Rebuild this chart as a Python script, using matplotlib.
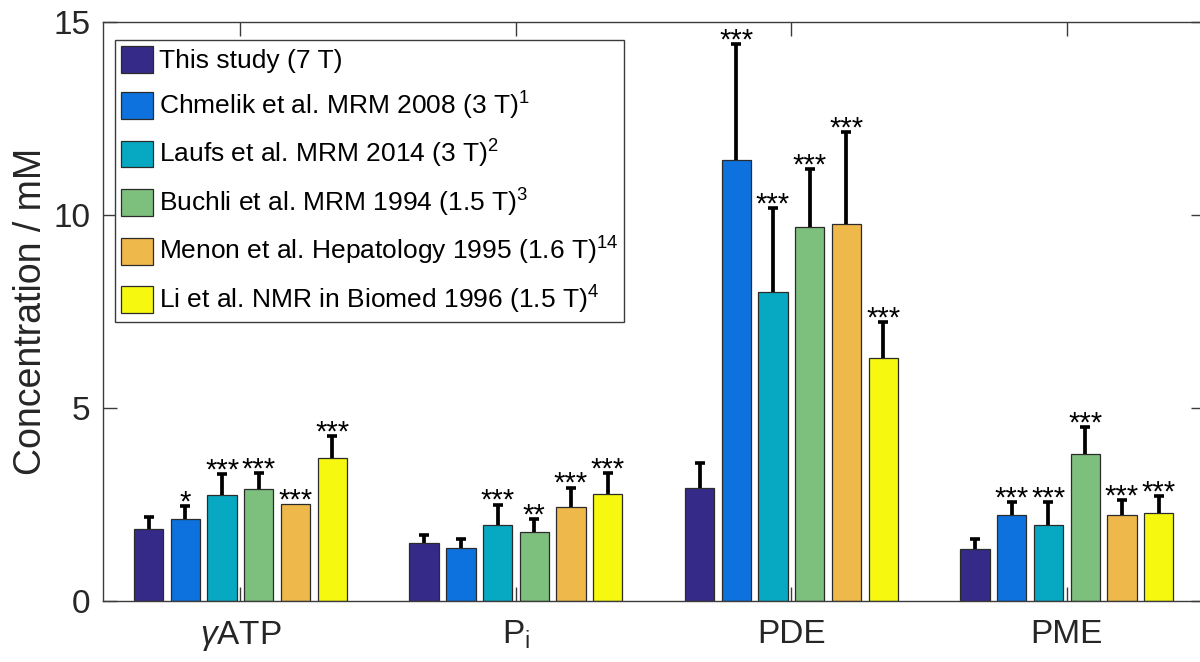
import numpy as np
import matplotlib
matplotlib.use("Agg")
import matplotlib.pyplot as plt
from matplotlib.patches import Patch

plt.rcParams["font.family"] = ["Liberation Sans", "DejaVu Sans"]
plt.rcParams["mathtext.fontset"] = "custom"
plt.rcParams["mathtext.rm"] = "Liberation Sans"
plt.rcParams["mathtext.it"] = "Liberation Sans:italic"
plt.rcParams["mathtext.bf"] = "Liberation Sans:bold"

# Metabolites (x groups)
metabolites = [r"$\gamma$ATP", r"P$_{\mathrm{i}}$", "PDE", "PME"]

# Studies (bar series)
studies = [
    "This study (7 T)",
    r"Chmelik et al. MRM 2008 (3 T)$^{1}$",
    r"Laufs et al. MRM 2014 (3 T)$^{2}$",
    r"Buchli et al. MRM 1994 (1.5 T)$^{3}$",
    r"Menon et al. Hepatology 1995 (1.6 T)$^{14}$",
    r"Li et al. NMR in Biomed 1996 (1.5 T)$^{4}$",
]
colors = ["#352A87", "#0D72DE", "#07A9C2", "#7DBF7D", "#EFB84A", "#F7F80F"]

# Mean concentrations (mM), one list per study: [gATP, Pi, PDE, PME]
this_study = [1.87, 1.50, 2.92, 1.33]
chmelik = [2.12, 1.37, 11.41, 2.22]
laufs = [2.75, 1.96, 8.01, 1.97]
buchli = [2.90, 1.78, 9.69, 3.81]
menon = [2.50, 2.44, 9.75, 2.22]
li = [3.69, 2.77, 6.29, 2.28]

# Standard deviations (mM)
this_study_sd = [0.29, 0.21, 0.66, 0.27]
chmelik_sd = [0.33, 0.24, 3.02, 0.33]
laufs_sd = [0.52, 0.53, 2.17, 0.58]
buchli_sd = [0.40, 0.33, 1.49, 0.68]
menon_sd = [0.00, 0.49, 2.40, 0.39]
li_sd = [0.58, 0.53, 0.93, 0.43]

# Significance markers vs. this study
chmelik_sig = ["*", "", "***", "***"]
laufs_sig = ["***", "***", "***", "***"]
buchli_sig = ["***", "**", "***", "***"]
menon_sig = ["***", "***", "***", "***"]
li_sig = ["***", "***", "***", "***"]
this_study_sig = ["", "", "", ""]

means = [this_study, chmelik, laufs, buchli, menon, li]
sds = [this_study_sd, chmelik_sd, laufs_sd, buchli_sd, menon_sd, li_sd]
sigs = [this_study_sig, chmelik_sig, laufs_sig, buchli_sig, menon_sig, li_sig]

fig = plt.figure(figsize=(12, 6.62), dpi=100)
ax = fig.add_axes([102.7 / 1200, 1 - 600.7 / 662, 1101.9 / 1200, 579 / 662])

n_series = len(studies)
group_x = np.arange(1, len(metabolites) + 1)
step = 0.8 / n_series
width = 0.8 * step
text_col = "#262626"

for j, (vals, err, sig, col) in enumerate(zip(means, sds, sigs, colors)):
    xs = group_x + (j - (n_series - 1) / 2) * step
    ax.bar(xs, vals, width=width, color=col, edgecolor="#2b2b2b",
           linewidth=0.9, zorder=2)
    vals = np.asarray(vals)
    err = np.asarray(err)
    has_err = err > 0
    # upper half of the error bar only
    eb = ax.errorbar(xs[has_err], vals[has_err],
                     yerr=[np.zeros(has_err.sum()), err[has_err]],
                     fmt="none", ecolor="black", elinewidth=2.7,
                     capsize=3.6, capthick=2.6, zorder=3)
    eb[1][0].set_visible(False)
    for x, v, e, s in zip(xs, vals, err, sig):
        if s:
            ax.annotate(s, (x, v + e), xytext=(0, -3.2),
                        textcoords="offset points", ha="center",
                        va="baseline", fontsize=21, color="black",
                        zorder=4)

ax.set_xlim(0.5, 4.5)
ax.set_ylim(0, 15)
ax.set_xticks(group_x)
ax.set_xticklabels(metabolites)
ax.set_yticks([0, 5, 10, 15])

for side in ["left", "right", "top", "bottom"]:
    ax.spines[side].set_color("#3c3c3c")
    ax.spines[side].set_linewidth(1.0)
ax.tick_params(axis="both", which="both", direction="in", length=10,
               width=1.0, color="#3c3c3c", labelsize=24,
               labelcolor=text_col, top=True, right=True)
ax.tick_params(axis="x", pad=13)
ax.tick_params(axis="y", pad=9)

ax.set_ylabel("Concentration / mM", fontsize=27, color=text_col)
ax.yaxis.set_label_coords(-0.049, 0.5)

handles = [Patch(facecolor=c, edgecolor="#2b2b2b", linewidth=0.9)
           for c in colors]
leg = ax.legend(handles, studies, loc="upper left",
                bbox_to_anchor=(115 / 1200, 1 - 40 / 662),
                bbox_transform=fig.transFigure, borderaxespad=0,
                fontsize=19, frameon=True, fancybox=False,
                framealpha=1, edgecolor="#3c3c3c",
                handlelength=1.23, handleheight=1.19,
                handletextpad=0.2, labelspacing=0.62, borderpad=0.22)
leg.get_frame().set_linewidth(1.0)
for t in leg.get_texts():
    t.set_color("black")

fig.savefig("out.png", dpi=100)
